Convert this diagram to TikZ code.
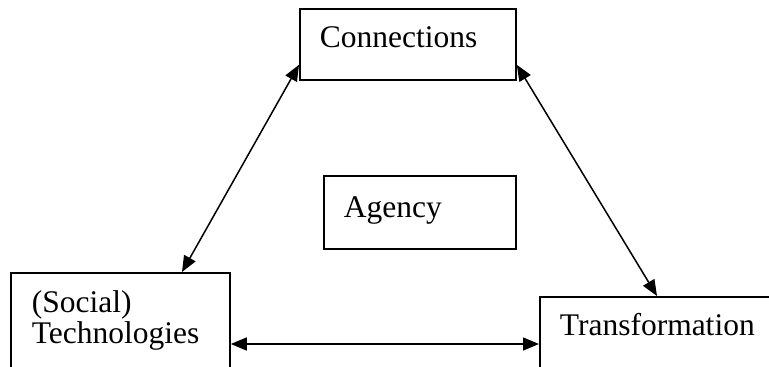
\documentclass[tikz,border=0pt]{standalone}
\usepackage{fontspec}
\setmainfont{Liberation Serif}
\usetikzlibrary{arrows.meta}

\begin{document}
\begin{tikzpicture}[
  x=1pt, y=-1pt,
  conceptbox/.style={rectangle, draw, line width=1.8pt, anchor=north west, inner xsep=20pt, inner ysep=0pt, align=left, font=\fontsize{31.5}{31}\selectfont},
  link/.style={{Triangle[length=16pt,width=13pt]}-{Triangle[length=16pt,width=13pt]}, line width=1.5pt}
]
  \clip (0,0) rectangle (769,367);

  % Boxes (the two lower ones run off the page)
  \node[conceptbox, text width=176pt, text height=39pt, text depth=32pt] (conn) at (299,8) {Connections};
  \node[conceptbox, text width=152pt, text height=42pt, text depth=31pt] (agency) at (323,175) {Agency};
  \node[conceptbox, inner xsep=21pt, text width=177pt, text height=40pt, text depth=70pt] (soctech) at (10,272) {(Social)\\Technologies};
  \node[conceptbox, text width=201pt, text height=39pt, text depth=70pt] (trans) at (539,296) {Transformation};

  % Arrows
  \draw[link] ([yshift=16pt]conn.south west) -- ([xshift=172pt]soctech.north west);
  \draw[link] ([yshift=16pt]conn.south east) -- ([xshift=118pt]trans.north west);
  \draw[link] ([yshift=-72pt]soctech.north east) -- ([yshift=-48pt]trans.north west);
\end{tikzpicture}
\end{document}
